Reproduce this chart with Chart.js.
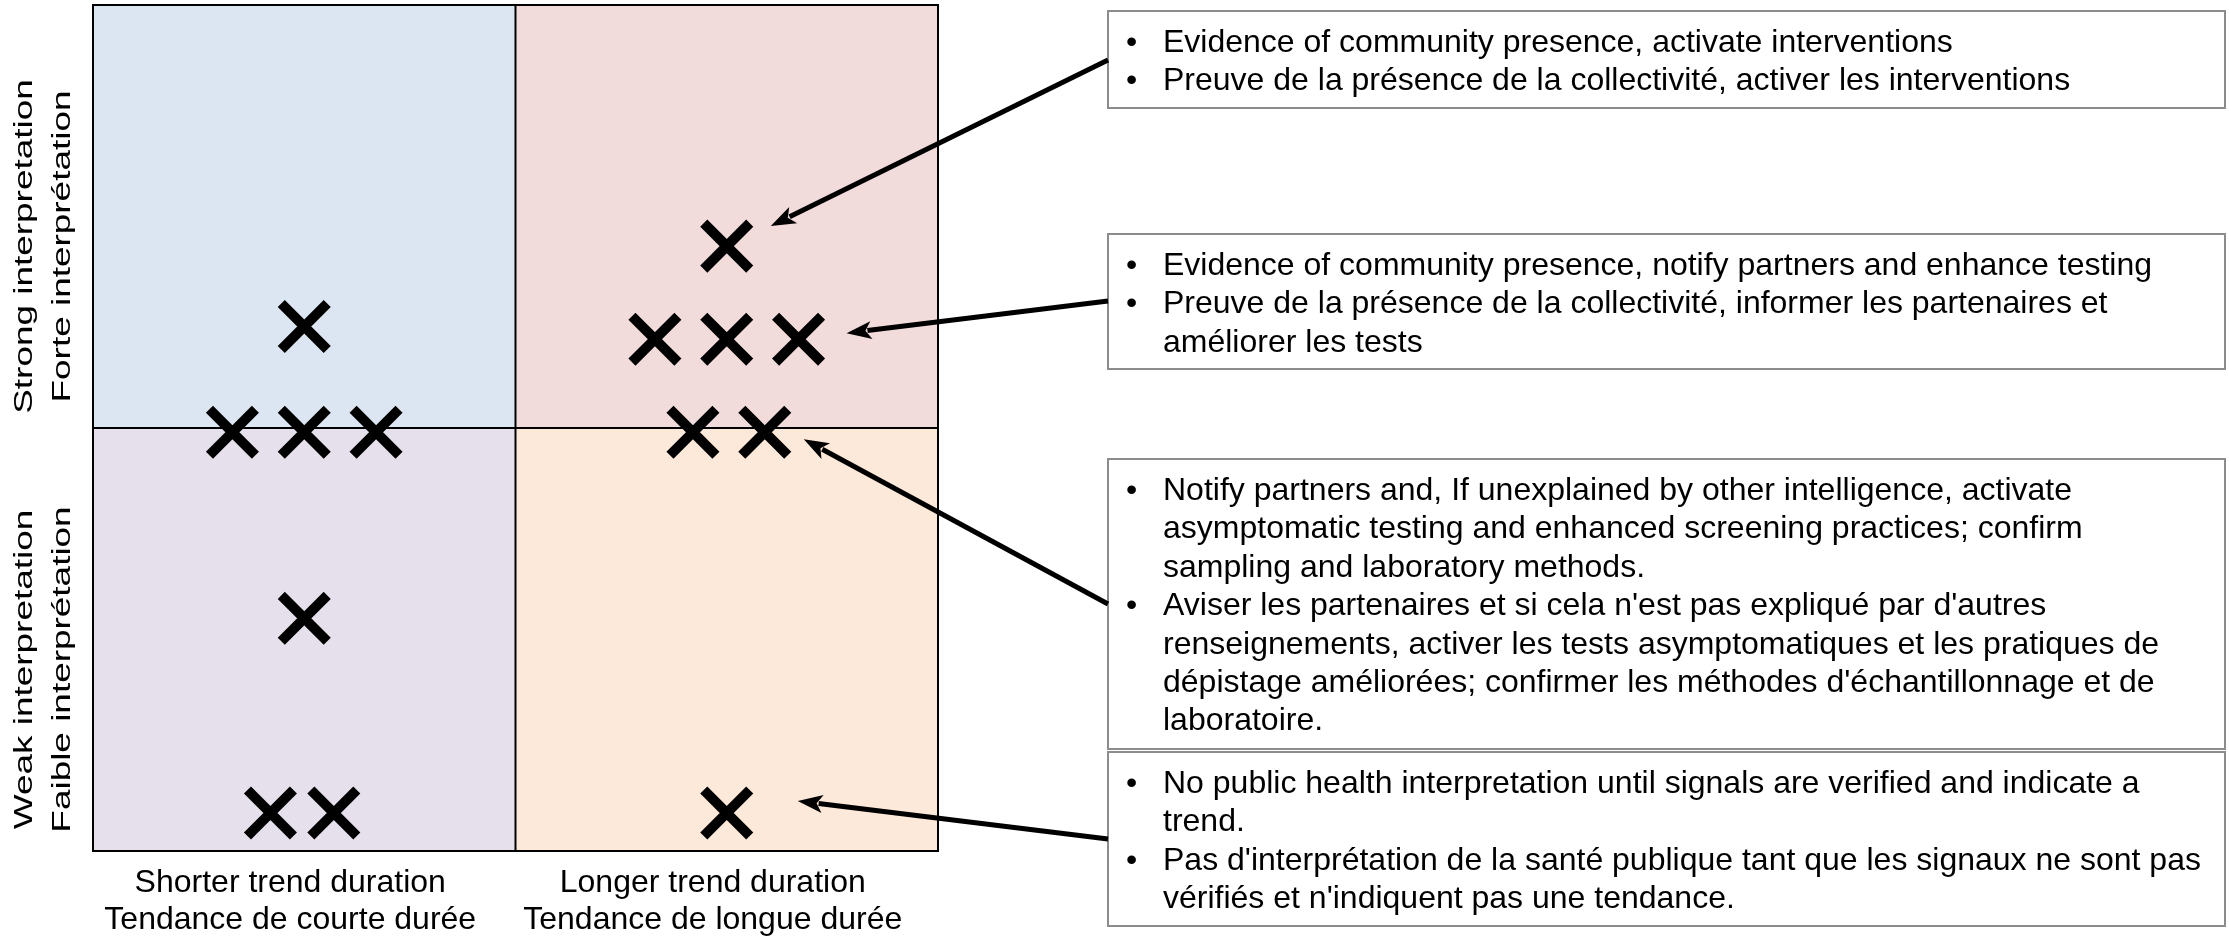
<!DOCTYPE html>
<html>
<head>
<meta charset="utf-8">
<script src="https://cdn.jsdelivr.net/npm/chart.js@4.4.1/dist/chart.umd.min.js"></script>
<style>
  html, body { margin: 0; padding: 0; background: #fff; }
  canvas { display: block; }
</style>
</head>
<body>
<canvas id="matrixChart" width="2229" height="937"></canvas>
<script>
// axis labels (one per quadrant column / row)
const xLabels = [
    ["Shorter trend duration", "Tendance de courte durée"],
    ["Longer trend duration", "Tendance de longue durée"]
];
const yLabels = [
    ["Weak interpretation", "Faible interprétation"],
    ["Strong interpretation", "Forte interprétation"]
];

// signals, x = trend duration (0-2), y = interpretation (0-2)
const strongShortX = [0.5, 0.33, 0.5, 0.67];
const strongShortY = [1.24, 0.99, 0.99, 0.99];
const strongLongX = [1.5, 1.33, 1.5, 1.67];
const strongLongY = [1.43, 1.21, 1.21, 1.21];
const edgeLongX = [1.42, 1.59];
const edgeLongY = [0.99, 0.99];
const weakShortX = [0.5, 0.42, 0.57];
const weakShortY = [0.55, 0.09, 0.09];
const weakLongX = [1.5];
const weakLongY = [0.09];

// notes on the right: bullets (each a list of wrapped lines) and the signal they point to
const noteTexts = [
    [
        ["Evidence of community presence, activate interventions"],
        ["Preuve de la présence de la collectivité, activer les interventions"]
    ],
    [
        ["Evidence of community presence, notify partners and enhance testing"],
        ["Preuve de la présence de la collectivité, informer les partenaires et", "améliorer les tests"]
    ],
    [
        ["Notify partners and, If unexplained by other intelligence, activate",
         "asymptomatic testing and enhanced screening practices; confirm",
         "sampling and laboratory methods."],
        ["Aviser les partenaires et si cela n'est pas expliqué par d'autres",
         "renseignements, activer les tests asymptomatiques et les pratiques de",
         "dépistage améliorées; confirmer les méthodes d'échantillonnage et de",
         "laboratoire."]
    ],
    [
        ["No public health interpretation until signals are verified and indicate a", "trend."],
        ["Pas d'interprétation de la santé publique tant que les signaux ne sont pas",
         "vérifiés et n'indiquent pas une tendance."]
    ]
];
const noteTargets = [[1, 0], [1, 3], [2, 1], [4, 0]]; // [dataset, point]

function toPoints(xs, ys) {
    return xs.map((v, i) => ({ x: v, y: ys[i] }));
}

const FONT = '"Liberation Sans", Arial, Helvetica, sans-serif';

// quadrant fills + frame + axis labels
const quadrantPlugin = {
    id: 'quadrants',
    beforeDatasetsDraw(chart) {
        const { ctx, chartArea: a, scales: { x, y } } = chart;
        const mx = x.getPixelForValue(1);
        const my = y.getPixelForValue(1);
        ctx.save();
        ctx.fillStyle = '#dce6f2'; ctx.fillRect(a.left, a.top, mx - a.left, my - a.top);
        ctx.fillStyle = '#f2dcdb'; ctx.fillRect(mx, a.top, a.right - mx, my - a.top);
        ctx.fillStyle = '#e5e0ec'; ctx.fillRect(a.left, my, mx - a.left, a.bottom - my);
        ctx.fillStyle = '#fde9d9'; ctx.fillRect(mx, my, a.right - mx, a.bottom - my);

        ctx.strokeStyle = '#000';
        ctx.lineWidth = 2;
        ctx.strokeRect(a.left, a.top, a.right - a.left, a.bottom - a.top);
        ctx.beginPath();
        ctx.moveTo(mx, a.top); ctx.lineTo(mx, a.bottom);
        ctx.moveTo(a.left, my); ctx.lineTo(a.right, my);
        ctx.stroke();

        // x labels under each column
        ctx.fillStyle = '#000';
        ctx.font = '32px ' + FONT;
        ctx.textAlign = 'center';
        ctx.textBaseline = 'alphabetic';
        xLabels.forEach((lines, i) => {
            const cx = x.getPixelForValue(i + 0.5) - 14;
            lines.forEach((t, j) => ctx.fillText(t, cx, a.bottom + 41 + j * 37));
        });

        // y labels, rotated and stretched along the text
        ctx.font = '26px ' + FONT;
        yLabels.forEach((lines, i) => {
            const cy = y.getPixelForValue(i + 0.5) + 30;
            ctx.save();
            ctx.translate(0, cy);
            ctx.rotate(-Math.PI / 2);
            ctx.scale(1.42, 1);
            lines.forEach((t, j) => ctx.fillText(t, 0, 32 + j * 38));
            ctx.restore();
        });
        ctx.restore();
    }
};

// note boxes + arrows to their signals
const notesPlugin = {
    id: 'notes',
    afterDatasetsDraw(chart) {
        const { ctx } = chart;
        const boxLeft = 1108, boxRight = 2225;
        const boxTops = [11, 234, 459, 752];
        const boxBottoms = [108, 369, 749, 926];
        const arrowStartY = [60, 301, 604, 839];
        const tipOffsets = [[44, -20], [48, -6], [39, 7], [71, -12]];
        ctx.save();
        noteTexts.forEach((bullets, n) => {
            ctx.fillStyle = '#fff';
            ctx.fillRect(boxLeft, boxTops[n], boxRight - boxLeft, boxBottoms[n] - boxTops[n]);
            ctx.strokeStyle = '#8c8c8c';
            ctx.lineWidth = 2;
            ctx.strokeRect(boxLeft, boxTops[n], boxRight - boxLeft, boxBottoms[n] - boxTops[n]);

            ctx.fillStyle = '#000';
            ctx.font = '32px ' + FONT;
            ctx.textAlign = 'left';
            ctx.textBaseline = 'alphabetic';
            let line = 0;
            bullets.forEach(lines => {
                lines.forEach((t, j) => {
                    const by = boxTops[n] + 41 + line * 38.4;
                    if (j === 0) ctx.fillText('•', 1126, by);
                    ctx.fillText(t, 1163, by);
                    line++;
                });
            });

            // arrow from box edge to the signal
            const [ds, pi] = noteTargets[n];
            const pt = chart.getDatasetMeta(ds).data[pi];
            const tx = pt.x + tipOffsets[n][0];
            const ty = pt.y + tipOffsets[n][1];
            const sx = boxLeft, sy = arrowStartY[n];
            const ang = Math.atan2(ty - sy, tx - sx);
            const len = 25, hw = 9;
            const bx = tx - Math.cos(ang) * len, bY = ty - Math.sin(ang) * len;
            ctx.strokeStyle = '#000';
            ctx.lineWidth = 5;
            ctx.beginPath();
            ctx.moveTo(sx, sy);
            ctx.lineTo(tx - Math.cos(ang) * (len - 4), ty - Math.sin(ang) * (len - 4));
            ctx.stroke();
            ctx.fillStyle = '#000';
            ctx.beginPath();
            ctx.moveTo(tx, ty);
            ctx.lineTo(bx - Math.sin(ang) * hw, bY + Math.cos(ang) * hw);
            ctx.lineTo(tx - Math.cos(ang) * (len - 6), ty - Math.sin(ang) * (len - 6));
            ctx.lineTo(bx + Math.sin(ang) * hw, bY - Math.cos(ang) * hw);
            ctx.closePath();
            ctx.fill();
        });
        ctx.restore();
    }
};

const markStyle = {
    showLine: false,
    pointStyle: 'crossRot',
    pointRadius: 32.5,
    pointHoverRadius: 32.5,
    borderWidth: 10,
    pointBorderWidth: 10,
    borderColor: '#000',
    backgroundColor: '#000'
};

const ctx = document.getElementById('matrixChart').getContext('2d');
const matrixChart = new Chart(ctx, {
    type: 'scatter',
    data: {
        datasets: [
            { label: 'Strong / shorter', data: toPoints(strongShortX, strongShortY), ...markStyle },
            { label: 'Strong / longer', data: toPoints(strongLongX, strongLongY), ...markStyle },
            { label: 'Boundary / longer', data: toPoints(edgeLongX, edgeLongY), ...markStyle },
            { label: 'Weak / shorter', data: toPoints(weakShortX, weakShortY), ...markStyle },
            { label: 'Weak / longer', data: toPoints(weakLongX, weakLongY), ...markStyle }
        ]
    },
    options: {
        responsive: false,
        animation: false,
        layout: { autoPadding: false, padding: { left: 93, top: 5, right: 1291, bottom: 86 } },
        scales: {
            x: { min: 0, max: 2, display: false },
            y: { min: 0, max: 2, display: false }
        },
        plugins: {
            legend: { display: false },
            tooltip: { enabled: false }
        }
    },
    plugins: [quadrantPlugin, notesPlugin]
});
</script>
</body>
</html>
